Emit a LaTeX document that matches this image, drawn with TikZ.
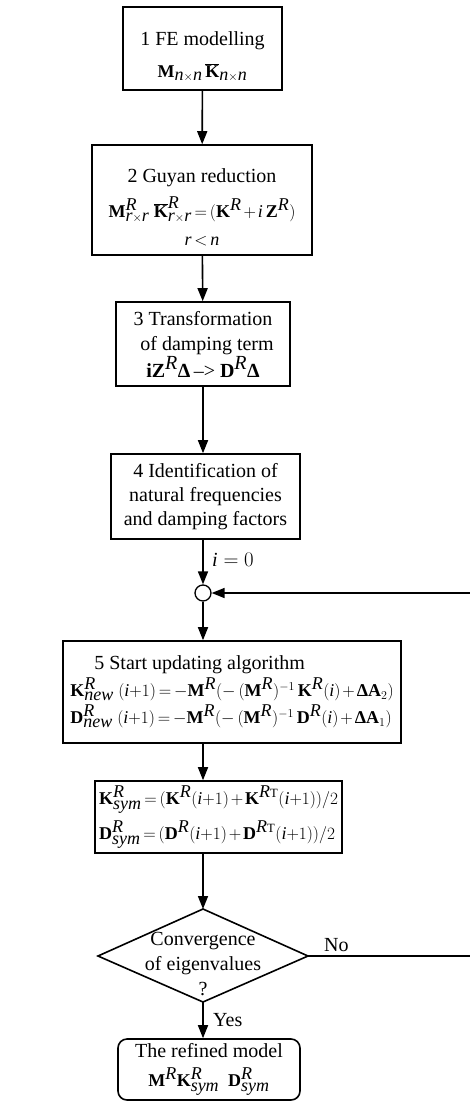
\documentclass[tikz,border=0pt]{standalone}
\usepackage{fontspec}
\setmainfont{Liberation Serif}
\usetikzlibrary{arrows.meta}
\newcommand{\mb}[1]{\textbf{#1}}
\newcommand{\ti}[1]{\textit{#1}}
\newcommand{\fs}{\fontsize{18}{24}\selectfont\thickmuskip=3mu\medmuskip=2mu}
\begin{document}
\begin{tikzpicture}[x=1pt,y=1pt,
  box/.style={draw,line width=1.6pt,align=center,inner sep=0pt,font=\fontsize{20}{24}\selectfont},
  conn/.style={line width=1.6pt,-{Triangle[length=13pt,width=10pt]}},
  plain/.style={line width=1.6pt},
  lbl/.style={font=\fontsize{20}{24}\selectfont,inner sep=0pt}]
\useasboundingbox (0,0) rectangle (469,-1103);
\node[box,minimum width=159,minimum height=83] (b1) at (202.5,-48.5)
  {\rule{0pt}{30pt}1 FE modelling\\[8pt] {\fs$\mb{M}_{\ti{n}\times \ti{n}}\,\overline{\mb{K}}_{\ti{n}\times \ti{n}}$}};
\node[box,minimum width=220,minimum height=110] (b2) at (202,-200)
  {\rule{0pt}{28pt}2 Guyan reduction\\[9pt] {\fs$\mb{M}^{\ti{R}}_{\ti{r}\times \ti{r}}\ \overline{\mb{K}}^{\ti{R}}_{\ti{r}\times \ti{r}} = (\mb{K}^{\ti{R}} + \ti{i}\,\mb{Z}^{\ti{R}})$}\\[4pt] {\fs$\ti{r} < \ti{n}$}};
\node[box,minimum width=174,minimum height=84] (b3) at (203,-344)
  {3 Transformation\\[1pt] \hspace*{8pt}of damping term\\[1pt] \mb{i}$\mb{Z}^{\ti{R}}$\mb{Δ}\,–> $\mb{D}^{\ti{R}}$\mb{Δ}};
\node[box,minimum width=189,minimum height=85] (b4) at (205.5,-496.5)
  {4 Identification of\\ natural frequencies\\ and damping factors};
\node[draw,circle,line width=1.3pt,minimum size=16pt,inner sep=0pt] (c) at (203,-593) {};
\node[box,minimum width=338,minimum height=102,align=left] (b5) at (232,-692)
  {\hspace*{24pt}5 Start updating algorithm\\[3pt]
   {\fs$\mb{K}^{\ti{R}}_{\ti{new}}\ (\ti{i}{+}1) = -\mb{M}^{\ti{R}}(-\,(\mb{M}^{\ti{R}})^{-1}\,\mb{K}^{\ti{R}}(\ti{i}) + \mb{ΔA}_2)$}\\[3pt]
   {\fs$\mb{D}^{\ti{R}}_{\ti{new}}\ (\ti{i}{+}1) = -\mb{M}^{\ti{R}}(-\,(\mb{M}^{\ti{R}})^{-1}\,\mb{D}^{\ti{R}}(\ti{i}) + \mb{ΔA}_1)$}};
\node[box,minimum width=247,minimum height=72,align=left] (b6) at (218.5,-817)
  {{\fs$\mb{K}^{\ti{R}}_{\ti{sym}} = (\mb{K}^{\ti{R}}(\ti{i}{+}1) + \mb{K}^{\ti{R}\mathrm{T}}(\ti{i}{+}1))/2$}\\[7pt]
   {\fs$\mb{D}^{\ti{R}}_{\ti{sym}} = (\mb{D}^{\ti{R}}(\ti{i}{+}1) + \mb{D}^{\ti{R}\mathrm{T}}(\ti{i}{+}1))/2$}};
\coordinate (dt) at (203,-909);
\coordinate (dr) at (308,-956);
\coordinate (db) at (203,-1002);
\coordinate (dl) at (98,-956);
\draw[line width=1.6pt] (dt) -- (dr) -- (db) -- (dl) -- cycle;
\node[align=center,inner sep=0pt,font=\fontsize{20}{25}\selectfont] (d) at (203,-964)
  {Convergence\\ of eigenvalues\\ ?};
\node[box,rounded corners=9pt,minimum width=182,minimum height=61] (b7) at (209,-1069.5)
  {The refined model\\[5pt] {\fs$\mb{M}^{\ti{R}}\mb{K}^{\ti{R}}_{\ti{sym}}\ \ \mb{D}^{\ti{R}}_{\ti{sym}}$}};
\coordinate (r1) at (472,-956);
\coordinate (r2) at (472,-593);
\draw[conn] (b1) -- (b2);
\draw[conn] (b2) -- (b3);
\draw[conn] (b3.south) -- (b3.south |- b4.north);
\draw[conn] (b4.south -| c) -- (c.north);
\node[lbl,anchor=west] (i0) at (212,-560) {$\ti{i} = 0$};
\draw[conn] (c.south) -- (c |- b5.north);
\draw[conn] (c |- b5.south) -- (c |- b6.north);
\draw[conn] (c |- b6.south) -- (dt);
\draw[conn] (db) -- (db |- b7.north);
\node[lbl,anchor=west] (yes) at (213,-1020) {Yes};
\draw[plain] (dr) -- (r1) -- (r2);
\draw[conn] (r2) -- (c.east);
\node[lbl,anchor=south west] (no) at (324,-952) {No};
\end{tikzpicture}
\end{document}
